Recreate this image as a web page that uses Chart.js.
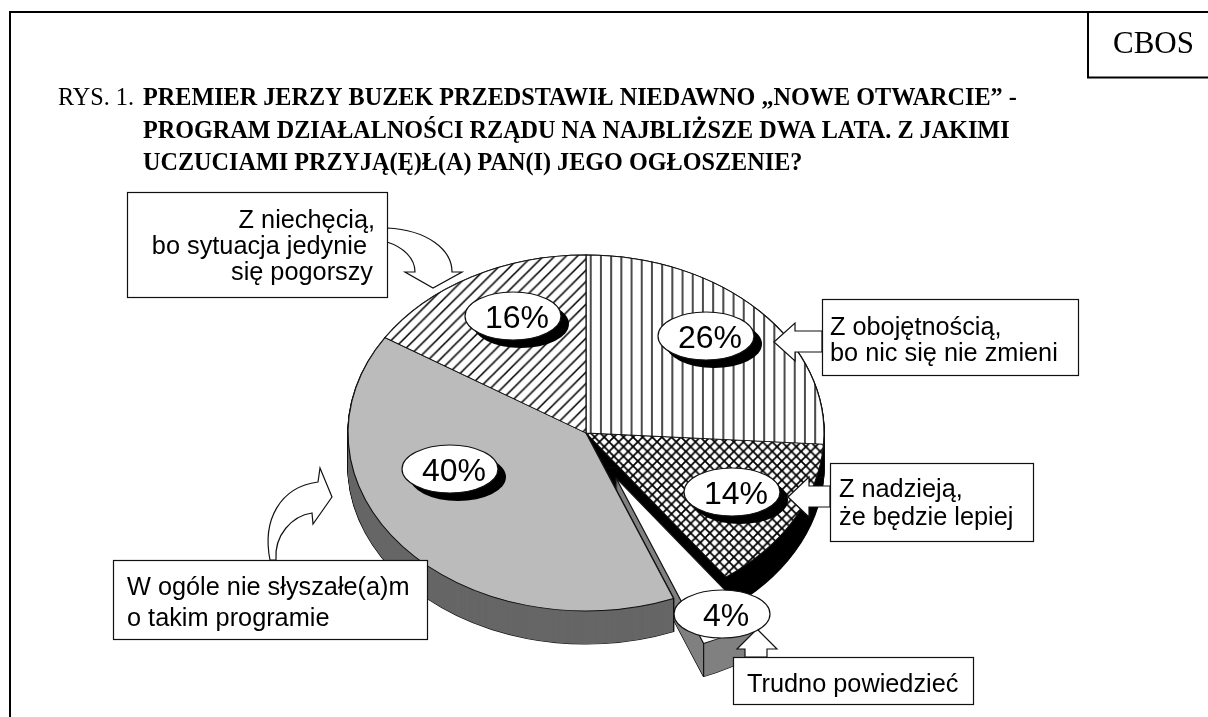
<!DOCTYPE html>
<html><head><meta charset="utf-8">
<style>html,body{margin:0;padding:0;background:#fff}canvas{display:block}</style>
<script src="https://cdn.jsdelivr.net/npm/chart.js@4"></script>
</head><body>
<canvas id="c" width="1208" height="717"></canvas>
<script>
// ---- data ----
const categories = ["Z obojętnością, bo nic się nie zmieni","Z nadzieją, że będzie lepiej","Trudno powiedzieć","W ogóle nie słyszałe(a)m o takim programie","Z niechęcią, bo sytuacja jedynie się pogorszy"];
const values = [26,14,4,40,16];
const wallColors = ["#000000","#000000","#808080","#666666","#666666"];
const titlePrefix = "RYS. 1. ";
const titleLines = ["PREMIER JERZY BUZEK PRZEDSTAWIŁ NIEDAWNO „NOWE OTWARCIE” -","PROGRAM DZIAŁALNOŚCI RZĄDU NA NAJBLIŻSZE DWA LATA. Z JAKIMI","UCZUCIAMI PRZYJĄ(Ę)Ł(A) PAN(I) JEGO OGŁOSZENIE?"];
const sourceLabel = "CBOS";

// ---- appearance ----
const INK="#111111";
const PIE={cx:586,cy:433,rx:238,ry:178,depth:33,explodeIndex:2,explodeX:30,explodeY:45};
const BOXES=[
 {r:[127,192,387,297],align:"right",lines:[["Z niechęcią,",375,228],["bo sytuacja jedynie",367,254],["się pogorszy",373,280]]},
 {r:[822,299,1078,375],align:"left",lines:[["Z obojętnością,",830,335],["bo nic się nie zmieni",830,361]]},
 {r:[830,463,1033,541],align:"left",lines:[["Z nadzieją,",839,497],["że będzie lepiej",839,525]]},
 {r:[113,560,427,639],align:"left",lines:[["W ogóle nie słyszałe(a)m",127,595],["o takim programie",127,626]]},
 {r:[733,657,973,704],align:"left",lines:[["Trudno powiedzieć",747,692]]}
];
const OVALS=[[706,336,1],[732,492,1],[722,614,0],[450,469,1],[513,316,1]];
const ARROWS=[
 [[774,342],[795,323],[795,331],[822,331],[822,352],[795,352],[795,361]],
 [[788,497],[809,477],[809,486],[830,486],[830,507],[809,507],[809,517]],
 [[757,629],[777,649],[767,649],[767,657],[745,657],[745,649],[737,649]]
];

function tile(draw,s,w){const c=document.createElement("canvas");c.width=s;c.height=s;const g=c.getContext("2d");g.fillStyle="#fff";g.fillRect(0,0,s,s);g.strokeStyle="#000";g.lineWidth=w;draw(g,s);return g.createPattern(c,"repeat");}
function diagUp(g,s){g.beginPath();for(let k=-1;k<=1;k++){g.moveTo(k*s-1,s+1);g.lineTo(k*s+s+1,-1);}g.stroke();}
function diagDown(g,s){g.beginPath();for(let k=-1;k<=1;k++){g.moveTo(k*s-1,-1);g.lineTo(k*s+s+1,s+1);}g.stroke();}
const patVert={p:tile((g,s)=>{g.beginPath();g.moveTo(5,0);g.lineTo(5,s);g.stroke();},10,1.4),k:1.02};
const patDiag={p:tile(diagUp,11,1.5),k:1.03};
const patCross={p:tile((g,s)=>{diagUp(g,s);diagDown(g,s);},10,1.8),k:0.96};
const fills=[patVert.p,patCross.p,"#ffffff","#bbbbbb",patDiag.p];

const ARC_BASE={borderAlign:"center",borderJoinStyle:"round",borderRadius:0,offset:0,spacing:0,circular:true,borderDash:[],borderDashOffset:0};

function drawArc(ctx,el,bg,border,width,dx,dy){
  const R=el.outerRadius, saved=el.options;
  ctx.save();
  ctx.translate(PIE.cx+dx,PIE.cy+dy);
  ctx.scale(PIE.rx/R,PIE.ry/R);
  ctx.translate(-el.x,-el.y);
  el.options=Object.assign({},ARC_BASE,{backgroundColor:bg,borderColor:border,borderWidth:width});
  el.draw(ctx);
  el.options=saved;
  ctx.restore();
}
function drawWall(ctx,el,color,dx,dy){
  for(let d=PIE.depth;d>=0;d--) drawArc(ctx,el,color,INK,1.5,dx,dy+d);
  for(let d=PIE.depth;d>=0;d--) drawArc(ctx,el,color,color,0,dx,dy+d);
}
function drawWallEdge(ctx,angle,dx,dy){
  const x=PIE.cx+dx+PIE.rx*Math.cos(angle), y=PIE.cy+dy+PIE.ry*Math.sin(angle);
  ctx.save();ctx.strokeStyle=INK;ctx.lineWidth=1.2;ctx.beginPath();ctx.moveTo(x,y);ctx.lineTo(x,y+PIE.depth);ctx.stroke();ctx.restore();
}
const piePlugin={
  id:"pie3d",
  beforeDatasetDraw(chart,args){
    const ctx=chart.ctx, arcs=args.meta.data, R=arcs[0].outerRadius;
    [patVert,patDiag,patCross].forEach(t=>t.p.setTransform(new DOMMatrix().scale(t.k*R/PIE.rx,t.k*R/PIE.ry)));
    const e=PIE.explodeIndex;
    drawWall(ctx,arcs[1],wallColors[1],0,0);
    drawWall(ctx,arcs[0],wallColors[0],0,0);
    drawWall(ctx,arcs[e],wallColors[e],PIE.explodeX,PIE.explodeY);
    drawWallEdge(ctx,arcs[e].endAngle,PIE.explodeX,PIE.explodeY);
    drawArc(ctx,arcs[e],fills[e],INK,1.2,PIE.explodeX,PIE.explodeY);
    drawWall(ctx,arcs[4],wallColors[4],0,0);
    drawWall(ctx,arcs[3],wallColors[3],0,0);
    drawWallEdge(ctx,arcs[3].startAngle,0,0);
    [3,1,0,4].forEach(i=>drawArc(ctx,arcs[i],fills[i],INK,1.2,0,0));
    return false;
  },
  afterDatasetsDraw(chart){
    const ctx=chart.ctx;
    ctx.save();
    ctx.lineWidth=1.2;ctx.strokeStyle=INK;ctx.fillStyle="#fff";
    ARROWS.forEach(a=>{ctx.beginPath();a.forEach((p,i)=>i?ctx.lineTo(p[0],p[1]):ctx.moveTo(p[0],p[1]));ctx.closePath();ctx.fill();ctx.stroke();});
    ctx.beginPath();ctx.moveTo(387,228);ctx.bezierCurveTo(428,230,452,250,452,272);ctx.lineTo(462,272);ctx.lineTo(433,288);ctx.lineTo(405,272);ctx.lineTo(415,272);ctx.bezierCurveTo(415,258,403,247,387,242);ctx.closePath();ctx.fill();ctx.stroke();
    ctx.beginPath();ctx.moveTo(270,560);ctx.bezierCurveTo(262,520,280,487,318,482);ctx.lineTo(320,468);ctx.lineTo(332,497);ctx.lineTo(313,524);ctx.lineTo(312,513);ctx.bezierCurveTo(292,516,274,535,276,560);ctx.closePath();ctx.fill();ctx.stroke();
    ctx.textAlign="center";ctx.textBaseline="alphabetic";
    OVALS.forEach((o,i)=>{
      if(o[2]){ctx.fillStyle="#000";ctx.beginPath();ctx.ellipse(o[0]+8,o[1]+8,48,24,0,0,Math.PI*2);ctx.fill();}
      ctx.fillStyle="#fff";ctx.beginPath();ctx.ellipse(o[0],o[1],48,24,0,0,Math.PI*2);ctx.fill();ctx.stroke();
      ctx.fillStyle="#000";ctx.font='32px "Liberation Sans"';ctx.fillText(values[i]+"%",o[0]+4,o[1]+12);
    });
    BOXES.forEach(b=>{
      const [x0,y0,x1,y1]=b.r;
      ctx.fillStyle="#fff";ctx.fillRect(x0,y0,x1-x0,y1-y0);ctx.strokeRect(x0+.5,y0+.5,x1-x0,y1-y0);
      ctx.fillStyle="#000";ctx.font='25.3px "Liberation Sans"';ctx.textAlign="left";
      b.lines.forEach(l=>{const w=b.align==="right"?ctx.measureText(l[0]).width:0;ctx.fillText(l[0],l[1]-w,l[2]);});
    });
    ctx.strokeStyle="#000";ctx.lineWidth=2;
    ctx.beginPath();ctx.moveTo(10,717);ctx.lineTo(10,12);ctx.lineTo(1208,12);ctx.moveTo(1088,12);ctx.lineTo(1088,77.5);ctx.lineTo(1208,77.5);ctx.stroke();
    ctx.fillStyle="#000";ctx.textAlign="left";
    ctx.font='31px "Liberation Serif"';ctx.fillText(sourceLabel,1113,53);
    ctx.font='24.2px "Liberation Serif"';ctx.fillText(titlePrefix,58,105);
    ctx.font='bold 24.2px "Liberation Serif"';
    ctx.fillText(titleLines[0],143,105);ctx.fillText(titleLines[1],143,138);ctx.fillText(titleLines[2],143,170);
    ctx.restore();
  }
};
new Chart(document.getElementById("c"),{
  type:"pie",
  data:{labels:categories,datasets:[{data:values,backgroundColor:fills,borderColor:INK,borderWidth:1}]},
  options:{responsive:false,animation:false,events:[],layout:{padding:{left:340,right:360,top:190,bottom:40}},
    plugins:{legend:{display:false},tooltip:{enabled:false},title:{display:false}}},
  plugins:[piePlugin]
});
</script>
</body></html>
